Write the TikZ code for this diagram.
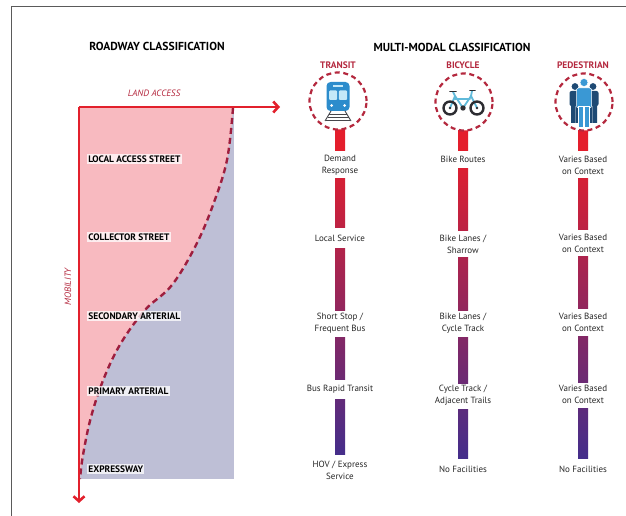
\documentclass[tikz,border=0pt]{standalone}
\usepackage{fontspec}
\setmainfont{PT Sans}
\usetikzlibrary{arrows.meta}
\definecolor{axisred}{RGB}{226,32,44}
\definecolor{dashred}{RGB}{158,30,62}
\definecolor{headred}{RGB}{180,40,62}
\definecolor{pinkfill}{RGB}{248,186,192}
\definecolor{grayfill}{RGB}{190,191,214}
\definecolor{gtop}{RGB}{228,30,44}
\definecolor{gbot}{RGB}{66,46,140}
\definecolor{trainblue}{RGB}{44,140,204}
\definecolor{winblue}{RGB}{196,232,248}
\definecolor{railgray}{RGB}{70,70,75}
\definecolor{bikeblue}{RGB}{96,186,218}
\definecolor{bikedark}{RGB}{45,45,50}
\definecolor{pednavy}{RGB}{30,74,116}
\definecolor{pedblue}{RGB}{58,152,212}
\definecolor{framegray}{RGB}{90,90,90}
\tikzset{
  mainhead/.style={font=\fontsize{11.6}{13}\selectfont\bfseries, text=black, inner sep=0pt},
  colhead/.style={font=\fontsize{9.4}{11}\selectfont\bfseries, text=headred, inner sep=0pt},
  roadlabel/.style={font=\fontsize{9.4}{11}\selectfont\bfseries, text=black, anchor=west,
    fill=white, fill opacity=0.75, text opacity=1, inner sep=1.2pt},
  modetext/.style={font=\fontsize{9}{12}\selectfont, text=black!85, align=center, inner sep=0pt},
  axislabel/.style={font=\fontsize{9.2}{11}\selectfont\itshape, text=headred, inner sep=0pt},
  iconring/.style={circle, draw=headred, line width=2.2pt, dash pattern=on 5pt off 3.6pt, minimum size=57pt, inner sep=0pt},
  axisarrow/.style={draw=axisred, line width=2.6pt, -{Straight Barb[length=5pt,width=11pt]}},
}
\begin{document}
\begin{tikzpicture}[x=1pt,y=-1pt]
\useasboundingbox (0,0) rectangle (626,516);
% frame
\draw[framegray, line width=0.8pt] (11,516) -- (11,6) -- (626,6);

% headings
\node[mainhead] (rc) at (157,46) {ROADWAY CLASSIFICATION};
\node[mainhead] (mm) at (452,47) {MULTI-MODAL CLASSIFICATION};
\node[colhead] (ht) at (338,65) {TRANSIT};
\node[colhead] (hb) at (463,65) {BICYCLE};
\node[colhead] (hp) at (583,65) {PEDESTRIAN};

% left chart
\fill[grayfill] (79,108) rectangle (234,479);
\fill[pinkfill] (79,108) -- plot[smooth, tension=0.6] coordinates {(233,108) (227,160) (213,205) (196,245) (172,285) (145,310) (121,343) (104,378) (91,417) (83,455) (80,479)} -- cycle;
\draw[dashred, line width=2.4pt, dash pattern=on 6pt off 4pt] plot[smooth, tension=0.6] coordinates {(233,108) (227,160) (213,205) (196,245) (172,285) (145,310) (121,343) (104,378) (91,417) (83,455) (80,479)};

\coordinate (O) at (79,107);
\coordinate (Xend) at (280,107);
\coordinate (Yend) at (79,503);
\draw[axisarrow] (O) -- (Xend);
\draw[axisarrow] (O) -- (Yend);
\node[axislabel] (land) at (154,93) {LAND ACCESS};
\node[axislabel, rotate=90] (mob) at (68,287) {MOBILITY};

\node[roadlabel] (r1) at (87,159) {LOCAL ACCESS STREET};
\node[roadlabel] (r2) at (87,237) {COLLECTOR STREET};
\node[roadlabel] (r3) at (87,316) {SECONDARY ARTERIAL};
\node[roadlabel] (r4) at (87,391) {PRIMARY ARTERIAL};
\node[roadlabel] (r5) at (87,469) {EXPRESSWAY};

% bars
\foreach \cx/\ya/\yb in {340/130/150, 340/178/227, 340/248/310, 340/337/379, 340/399/454,
                         463/130/150, 463/168/230, 463/257/310, 463/337/383, 463/409/458,
                         583/130/150, 583/178/229, 583/256/308, 583/336/382, 583/408/458}{
  \pgfmathtruncatemacro\fa{max(0,(\ya-150)/3.08)}
  \pgfmathtruncatemacro\fb{min(100,(\yb-150)/3.08)}
  \shade[top color=gbot!\fa!gtop, bottom color=gbot!\fb!gtop] (\cx-5,\ya) rectangle (\cx+5,\yb);
}

% icon rings
\node[iconring, fill=white] (ct) at (338,101) {};
\node[iconring, fill=white] (cb) at (464,102) {};
\node[iconring, fill=white] (cp) at (584,102) {};

% train
\fill[trainblue, rounded corners=4pt] (326.5,82) rectangle (349.5,111);
\fill[winblue, rounded corners=1pt] (329,90.5) rectangle (337.2,100);
\fill[winblue, rounded corners=1pt] (338.8,90.5) rectangle (347,100);
\fill[winblue] (333,85) rectangle (343,87.5);
\fill[white] (331.5,105.5) circle (1.5);
\fill[white] (344.5,105.5) circle (1.5);
\draw[railgray, line width=0.9pt] (331,111) -- (325,121) (345,111) -- (351,121);
\draw[railgray, line width=0.9pt] (329,114) -- (347,114) (327.5,117.3) -- (348.5,117.3) (326,120.5) -- (350,120.5);

% bicycle
\draw[bikeblue, line width=1.8pt, line join=round, line cap=round]
  (450,108) -- (455,96) -- (463,108) -- (471,96) -- (477,108)
  (455,96) -- (453,92) (471,96) -- (472,91) (455,99) -- (470,99);
\draw[bikedark, line width=2.4pt] (450,108) circle (6.5) (477,108) circle (6.5);
\fill[bikedark] (450,108) circle (1.3) (477,108) circle (1.3) (463,108) circle (2.7);
\draw[bikedark, line width=1.6pt, line cap=round] (450,91.5) -- (456,91.5) (470,90.5) -- (475,90.5);

% pedestrians
\fill[pednavy] (575,86.5) circle (3.4) (593,86.5) circle (3.4);
\fill[pednavy, rounded corners=2pt] (569.5,91) rectangle (580.5,106);
\fill[pednavy] (571,105) rectangle (575,123) (575.5,105) rectangle (579.5,123);
\fill[pednavy, rounded corners=2pt] (587.5,91) rectangle (598.5,106);
\fill[pednavy] (588.5,105) rectangle (592.5,123) (593,105) rectangle (597,123);
\fill[pedblue, draw=white, line width=0.5pt] (584,82.5) circle (4);
\fill[pedblue, draw=white, line width=0.5pt, rounded corners=2pt] (576.5,88) rectangle (591.5,108);
\fill[pedblue, draw=white, line width=0.5pt] (578.5,106) rectangle (583.6,127) (584.4,106) rectangle (589.5,127);

% transit texts
\node[modetext] (t1) at (340,165) {Demand\\Response};
\node[modetext] (t2) at (340,238) {Local Service};
\node[modetext] (t3) at (340,323) {Short Stop /\\Frequent Bus};
\node[modetext] (t4) at (340,389) {Bus Rapid Transit};
\node[modetext] (t5) at (340,470) {HOV / Express\\Service};
% bicycle texts
\node[modetext] (b1) at (463,159) {Bike Routes};
\node[modetext] (b2) at (463,244) {Bike Lanes /\\Sharrow};
\node[modetext] (b3) at (463,323) {Bike Lanes /\\Cycle Track};
\node[modetext] (b4) at (463,395) {Cycle Track /\\Adjacent Trails};
\node[modetext] (b5) at (463,469) {No Facilities};
% pedestrian texts
\node[modetext] (p1) at (583,165) {Varies Based\\on Context};
\node[modetext] (p2) at (583,243) {Varies Based\\on Context};
\node[modetext] (p3) at (583,322) {Varies Based\\on Context};
\node[modetext] (p4) at (583,394) {Varies Based\\on Context};
\node[modetext] (p5) at (583,469) {No Facilities};
\end{tikzpicture}
\end{document}
